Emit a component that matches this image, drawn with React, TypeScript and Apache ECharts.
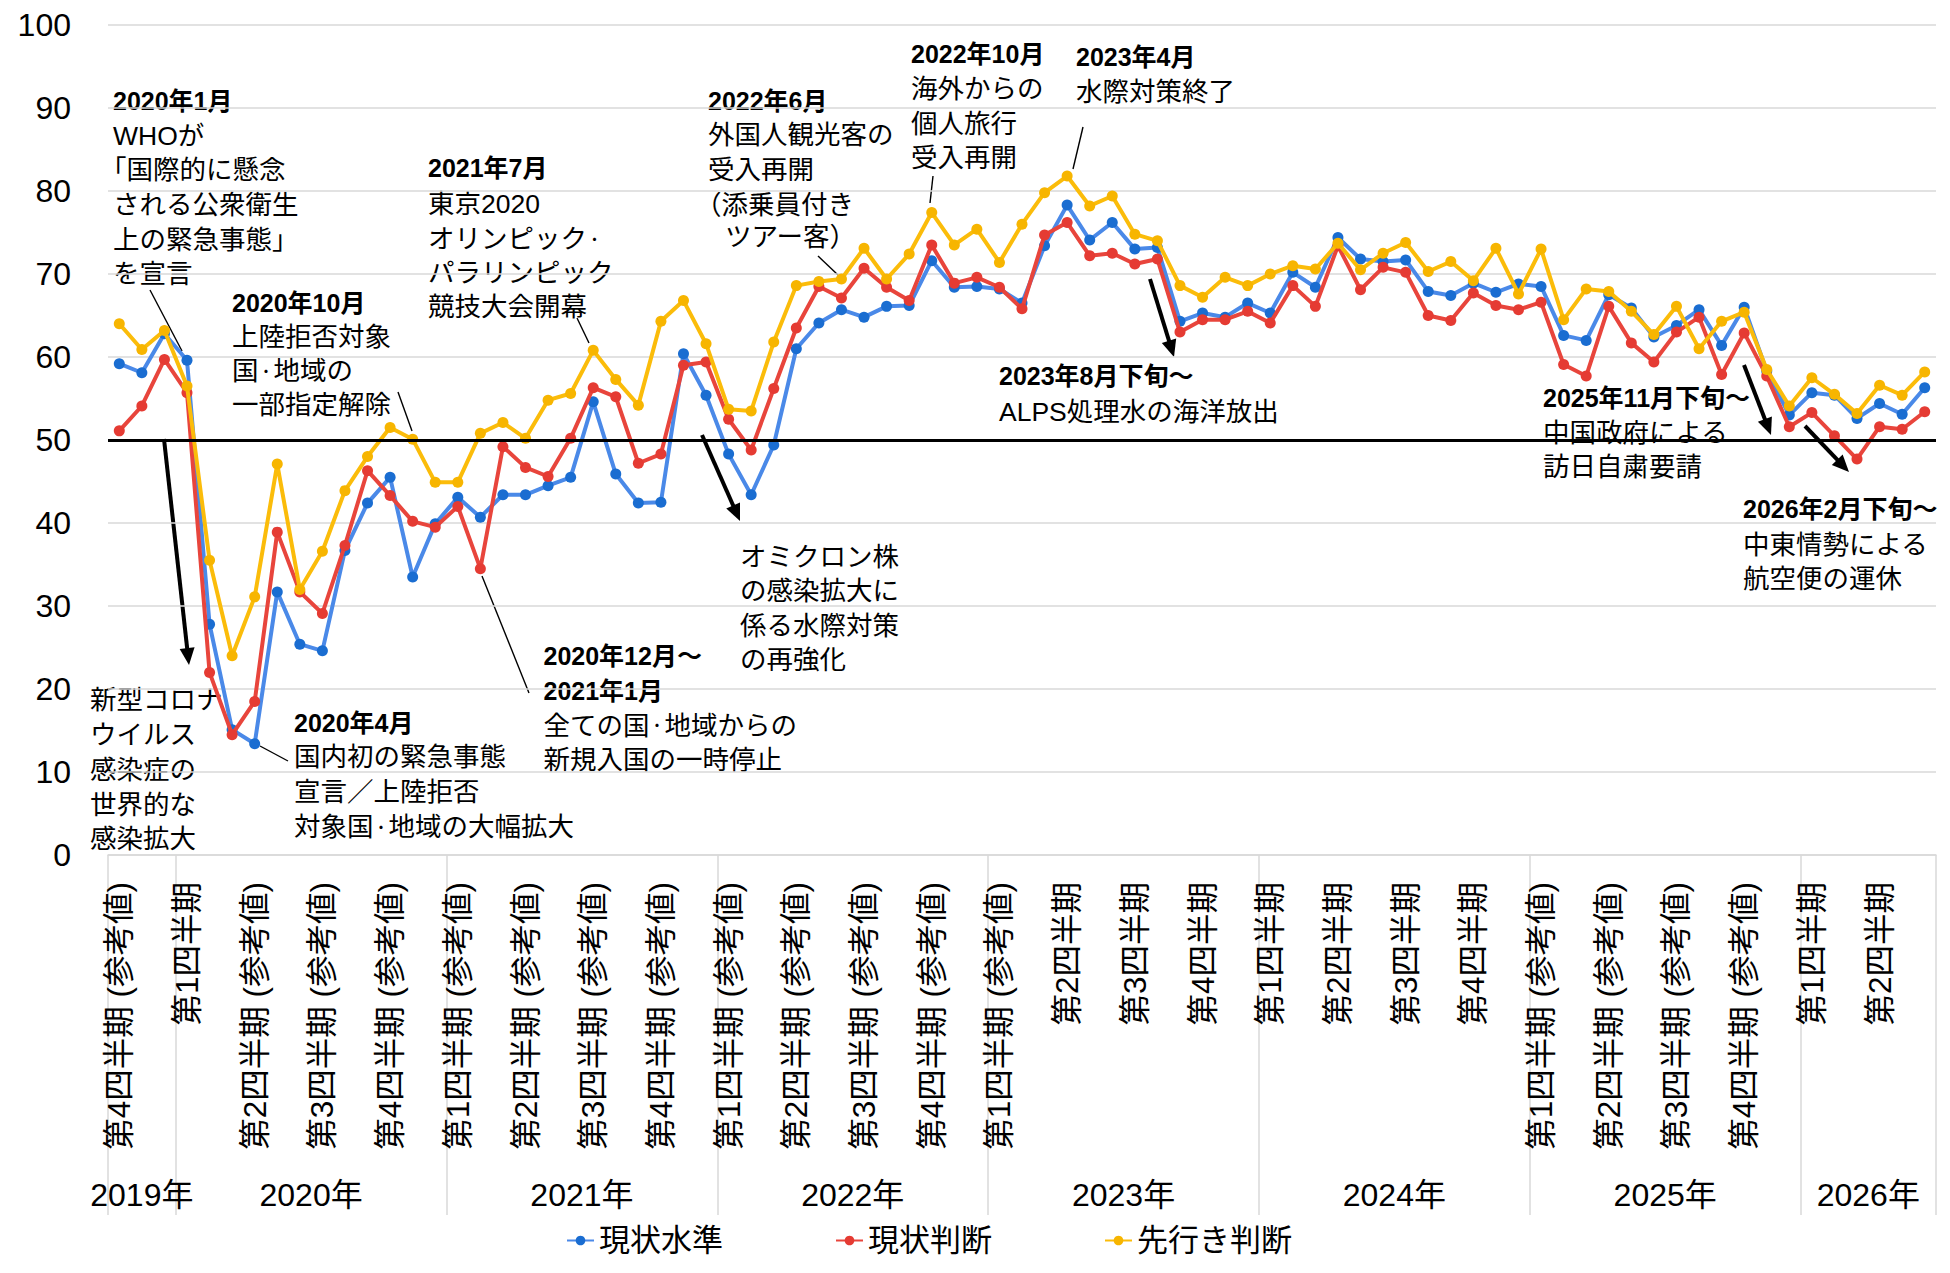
import React, { useEffect, useRef } from "react";
import * as echarts from "echarts";

const FONT = "'Liberation Sans', 'Noto Sans CJK JP', sans-serif";

// x-axis: quarter labels (placed at first month of each quarter)
const quarterLabels = [
  "第4四半期 (参考値)",
  "第1四半期", "第2四半期 (参考値)", "第3四半期 (参考値)", "第4四半期 (参考値)",
  "第1四半期 (参考値)", "第2四半期 (参考値)", "第3四半期 (参考値)", "第4四半期 (参考値)",
  "第1四半期 (参考値)", "第2四半期 (参考値)", "第3四半期 (参考値)", "第4四半期 (参考値)",
  "第1四半期 (参考値)", "第2四半期", "第3四半期", "第4四半期",
  "第1四半期", "第2四半期", "第3四半期", "第4四半期",
  "第1四半期 (参考値)", "第2四半期 (参考値)", "第3四半期 (参考値)", "第4四半期 (参考値)",
  "第1四半期", "第2四半期",
];
const yearLabels = ["2019年", "2020年", "2021年", "2022年", "2023年", "2024年", "2025年", "2026年"];
const yearMonthCounts = [3, 12, 12, 12, 12, 12, 12, 6];
const firstYear = 2019;
const firstMonth = 10;

// series values (monthly)
const genjoSuijun = [
  59.2, 58.1, 62.8, 59.6, 27.8, 15.1, 13.4, 31.7, 25.4, 24.6,
  36.7, 42.4, 45.5, 33.5, 39.9, 43.1, 40.7, 43.4, 43.4, 44.5,
  45.5, 54.6, 45.9, 42.4, 42.5, 60.4, 55.4, 48.3, 43.4, 49.4,
  61.0, 64.1, 65.7, 64.8, 66.1, 66.2, 71.6, 68.4, 68.5, 68.2,
  66.5, 73.4, 78.3, 74.1, 76.2, 73.0, 73.2, 64.3, 65.3, 64.8,
  66.5, 65.3, 70.2, 68.4, 74.4, 71.8, 71.5, 71.7, 67.9, 67.4,
  68.9, 67.8, 68.8, 68.5, 62.6, 62.0, 67.5, 65.9, 62.4, 63.8,
  65.7, 61.4, 66.0, 58.3, 53.0, 55.7, 55.4, 52.6, 54.4, 53.1,
  56.3,
];
const genjoHandan = [
  51.1, 54.1, 59.7, 55.7, 22.0, 14.5, 18.5, 38.9, 31.7, 29.1,
  37.3, 46.3, 43.3, 40.2, 39.5, 42.0, 34.5, 49.2, 46.7, 45.6,
  50.2, 56.3, 55.2, 47.2, 48.3, 59.0, 59.4, 52.5, 48.8, 56.2,
  63.5, 68.5, 67.1, 70.7, 68.4, 66.8, 73.5, 68.9, 69.6, 68.4,
  65.8, 74.7, 76.2, 72.2, 72.5, 71.2, 71.8, 63.0, 64.5, 64.5,
  65.5, 64.1, 68.6, 66.1, 73.4, 68.1, 70.8, 70.2, 65.0, 64.4,
  67.7, 66.2, 65.7, 66.6, 59.1, 57.7, 66.1, 61.7, 59.4, 63.0,
  64.8, 57.9, 62.9, 57.7, 51.6, 53.3, 50.5, 47.7, 51.6, 51.3,
  53.4,
];
const sakiyukiHandan = [
  64.0, 60.9, 63.2, 56.5, 35.5, 24.0, 31.1, 47.1, 32.0, 36.6,
  43.9, 48.0, 51.5, 50.1, 44.9, 44.9, 50.8, 52.1, 50.2, 54.8,
  55.6, 60.8, 57.3, 54.2, 64.3, 66.8, 61.6, 53.7, 53.5, 61.8,
  68.6, 69.1, 69.4, 73.1, 69.4, 72.4, 77.4, 73.5, 75.4, 71.4,
  76.0, 79.8, 81.8, 78.2, 79.4, 74.8, 74.0, 68.6, 67.2, 69.6,
  68.6, 70.0, 71.0, 70.6, 73.7, 70.5, 72.5, 73.8, 70.3, 71.5,
  69.2, 73.1, 67.6, 73.0, 64.5, 68.2, 67.9, 65.5, 62.7, 66.1,
  61.0, 64.3, 65.4, 58.5, 54.1, 57.5, 55.5, 53.2, 56.6, 55.4,
  58.2,
];
const seriesNames = ["現状水準", "現状判断", "先行き判断"];
const yTicks = { min: 0, max: 100, interval: 10 };
const referenceLevel = 50;

type Line = { t: string; b?: boolean; dx?: number };
type Block = { x: number; ys: number[]; lines: Line[] };

const annotations: Block[] = [
  { x: 113, ys: [100.5, 135.5, 170, 204.7, 239.6, 273.5], lines: [
    { t: "2020年1月", b: true }, { t: "WHOが" }, { t: "「国際的に懸念", dx: -13 },
    { t: "される公衆衛生" }, { t: "上の緊急事態」" }, { t: "を宣言" } ] },
  { x: 232, ys: [302.5, 337, 371, 405], lines: [
    { t: "2020年10月", b: true }, { t: "上陸拒否対象" }, { t: "国・地域の" }, { t: "一部指定解除" } ] },
  { x: 428, ys: [168, 204, 239, 272.5, 306.5], lines: [
    { t: "2021年7月", b: true }, { t: "東京2020" }, { t: "オリンピック・" }, { t: "パラリンピック" }, { t: "競技大会開幕" } ] },
  { x: 708, ys: [100.5, 135.3, 170.3, 205, 237], lines: [
    { t: "2022年6月", b: true }, { t: "外国人観光客の" }, { t: "受入再開" },
    { t: "（添乗員付き", dx: -13 }, { t: "ツアー客）", dx: 17 } ] },
  { x: 911, ys: [54, 89, 123.5, 158], lines: [
    { t: "2022年10月", b: true }, { t: "海外からの" }, { t: "個人旅行" }, { t: "受入再開" } ] },
  { x: 1076, ys: [56.5, 92], lines: [ { t: "2023年4月", b: true }, { t: "水際対策終了" } ] },
  { x: 999, ys: [376, 411.7], lines: [ { t: "2023年8月下旬～", b: true }, { t: "ALPS処理水の海洋放出" } ] },
  { x: 740, ys: [556.5, 591, 625.5, 660], lines: [
    { t: "オミクロン株" }, { t: "の感染拡大に" }, { t: "係る水際対策" }, { t: "の再強化" } ] },
  { x: 543.5, ys: [656, 691, 725.5, 760], lines: [
    { t: "2020年12月～", b: true }, { t: "2021年1月", b: true }, { t: "全ての国・地域からの" }, { t: "新規入国の一時停止" } ] },
  { x: 294, ys: [723, 757.3, 792, 827], lines: [
    { t: "2020年4月", b: true }, { t: "国内初の緊急事態" }, { t: "宣言／上陸拒否" }, { t: "対象国・地域の大幅拡大" } ] },
  { x: 90, ys: [700, 735, 770, 804.6, 839.4], lines: [
    { t: "新型コロナ" }, { t: "ウイルス" }, { t: "感染症の" }, { t: "世界的な" }, { t: "感染拡大" } ] },
  { x: 1543, ys: [398, 432.5, 467], lines: [
    { t: "2025年11月下旬～", b: true }, { t: "中国政府による" }, { t: "訪日自粛要請" } ] },
  { x: 1743, ys: [508.5, 544.5, 579], lines: [
    { t: "2026年2月下旬～", b: true }, { t: "中東情勢による" }, { t: "航空便の運休" } ] },
];

const leaders: number[][] = [
  [150, 290, 182, 351],
  [398, 392, 412, 431],
  [577, 318, 589, 343],
  [818, 256, 838, 275],
  [933, 176, 930, 203],
  [1083, 127, 1073, 169],
  [482, 576, 529, 693],
  [260, 746, 288, 761],
];
const arrows: number[][] = [
  [164, 439, 189, 665],
  [1150, 279, 1174, 357],
  [702, 435, 740, 521],
  [1744, 365, 1771, 435],
  [1805, 426, 1849, 472],
];

function buildCategories() {
  const cats: string[] = [];
  const labels: string[] = [];
  let y = firstYear;
  let m = firstMonth;
  for (let qi = 0; qi < quarterLabels.length; qi++) {
    for (let k = 0; k < 3; k++) {
      cats.push(`${y}-${m}`);
      labels.push(k === 0 ? quarterLabels[qi] : "");
      m++;
      if (m > 12) { m = 1; y++; }
    }
  }
  return { cats, labels };
}

function arrowEls(x1: number, y1: number, x2: number, y2: number) {
  const dx = x2 - x1, dy = y2 - y1;
  const len = Math.hypot(dx, dy);
  const ux = dx / len, uy = dy / len;
  const L = 17, W = 7.5;
  const bx = x2 - ux * L, by = y2 - uy * L;
  return [
    { type: "line", silent: true, shape: { x1, y1, x2: bx + ux * 2, y2: by + uy * 2 }, style: { stroke: "#000", lineWidth: 4 } },
    { type: "polygon", silent: true, shape: { points: [[x2, y2], [bx - uy * W, by + ux * W], [bx + uy * W, by - ux * W]] }, style: { fill: "#000" } },
  ];
}

export default function App() {
  const ref = useRef<HTMLDivElement>(null);
  useEffect(() => {
    document.body.style.margin = "0";
    if (!ref.current) return;
    const chart = echarts.init(ref.current, undefined, { renderer: "svg" });
    const { cats, labels } = buildCategories();

    const bounds: number[] = [0];
    yearMonthCounts.forEach((c) => bounds.push(bounds[bounds.length - 1] + c));
    const centers = yearMonthCounts.map((c, i) => bounds[i] + c / 2);
    const total = bounds[bounds.length - 1];

    const graphic: any[] = [];
    annotations.forEach((blk) => {
      blk.lines.forEach((ln, i) => {
        const size = ln.b ? 25 : 26.5;
        const hasDot = ln.t.indexOf("・") >= 0;
        graphic.push({
          type: "text", silent: true, x: blk.x + (ln.dx || 0), y: blk.ys[i],
          style: {
            text: hasDot ? ln.t.split("・").join("{d|・}") : ln.t,
            fill: "#000", fontSize: size, fontFamily: FONT,
            fontWeight: ln.b ? "bold" : "normal", align: "left", verticalAlign: "middle",
            rich: hasDot ? {
              d: { fontSize: 15, fontFamily: FONT, fill: "#000", verticalAlign: "middle", lineHeight: size * 1.2, padding: [0, 0, 0, 0] },
            } : undefined,
          },
        });
      });
    });
    leaders.forEach(([x1, y1, x2, y2]) => {
      graphic.push({ type: "line", silent: true, shape: { x1, y1, x2, y2 }, style: { stroke: "#000", lineWidth: 1.4 } });
    });
    arrows.forEach(([x1, y1, x2, y2]) => graphic.push(...arrowEls(x1, y1, x2, y2)));

    const mk = (name: string, data: number[], line: string, mark: string, z: number, extra: any = {}) => ({
      name, type: "line", data, symbol: "circle", symbolSize: 11, showSymbol: true,
      lineStyle: { color: line, width: 4 }, itemStyle: { color: mark }, z,
      emphasis: { disabled: true }, ...extra,
    });

    chart.setOption({
      animation: false,
      textStyle: { fontFamily: FONT, color: "#000" },
      grid: { left: 108, right: 14, top: 25, bottom: 418, containLabel: false },
      legend: {
        data: seriesNames, left: 561, top: 1220, itemWidth: 27, itemHeight: 12, itemGap: 112,
        textStyle: { fontSize: 31, color: "#000", fontFamily: FONT },
      },
      xAxis: [
        {
          type: "category", data: cats, boundaryGap: true,
          axisLine: { show: true, lineStyle: { color: "#d9d9d9", width: 1.5 } },
          axisTick: { show: false },
          axisLabel: {
            interval: 0, rotate: 90, margin: 27, fontSize: 31.5, color: "#000", fontFamily: FONT,
            formatter: (_v: string, idx: number) => labels[idx],
          },
          splitLine: { show: false },
        },
        {
          type: "value", min: 0, max: total, position: "bottom", offset: 360,
          axisLine: { show: false },
          splitLine: { show: false },
          axisTick: { show: true, inside: true, length: 360, customValues: bounds, lineStyle: { color: "#d9d9d9", width: 1.5 } },
          axisLabel: {
            show: true, inside: true, margin: 4, fontSize: 32, color: "#000", fontFamily: FONT,
            customValues: centers,
            formatter: (v: number) => {
              const i = centers.findIndex((c) => Math.abs(c - v) < 0.01);
              return i >= 0 ? yearLabels[i] : "";
            },
          },
        },
      ],
      yAxis: {
        type: "value", min: yTicks.min, max: yTicks.max, interval: yTicks.interval,
        axisLine: { show: false }, axisTick: { show: false },
        axisLabel: { fontSize: 32, color: "#000", margin: 37, fontFamily: FONT },
        splitLine: { show: true, lineStyle: { color: "#d9d9d9", width: 1.5 } },
      },
      series: [
        mk(seriesNames[0], genjoSuijun, "#4a89e8", "#1a6dd1", 2, {
          markLine: {
            silent: true, symbol: ["none", "none"], label: { show: false },
            lineStyle: { color: "#000", width: 3, type: "solid" },
            emphasis: { disabled: true },
            data: [{ yAxis: referenceLevel }],
          },
        }),
        mk(seriesNames[1], genjoHandan, "#e8453c", "#e53b33", 3),
        mk(seriesNames[2], sakiyukiHandan, "#fbbc0a", "#f7b500", 4),
      ],
      graphic,
    });
    return () => chart.dispose();
  }, []);
  return <div ref={ref} style={{ width: 1950, height: 1273 }} />;
}
